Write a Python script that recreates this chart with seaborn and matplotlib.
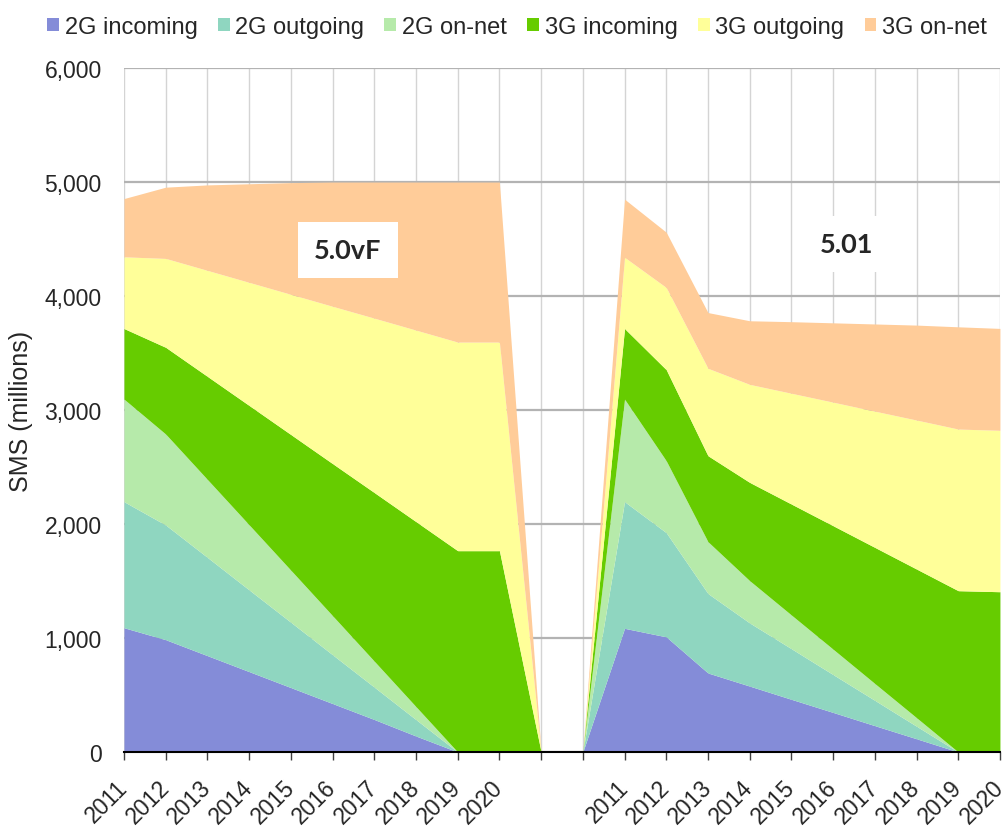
import numpy as np
import pandas as pd
import seaborn as sns
import matplotlib.pyplot as plt
from matplotlib.ticker import FuncFormatter

# Data (millions of SMS), two scenarios side by side
years = [str(y) for y in range(2011, 2021)]
gap = ['', '']   # two empty slots where both stacks fall to zero

series = ['2G incoming', '2G outgoing', '2G on-net', '3G incoming', '3G outgoing', '3G on-net']
colors = ['#848CD8', '#8FD6C0', '#B6EAAA', '#66CC00', '#FFFF99', '#FFCC99']

# scenario 5.0vF
left_2g_in = [1090, 985, 845, 705, 565, 425, 285, 140, 0, 0]
left_2g_out = [1106, 1006, 862, 717, 573, 428, 284, 144, 0, 0]
left_2g_net = [900, 798, 684, 571, 457, 343, 228, 114, 0, 0]
left_3g_in = [619, 761, 904, 1047, 1190, 1334, 1479, 1623, 1766, 1766]
left_3g_out = [629, 780, 930, 1080, 1230, 1380, 1530, 1680, 1830, 1830]
left_3g_net = [511, 625, 750, 865, 980, 1090, 1194, 1299, 1404, 1404]

# scenario 5.01
right_2g_in = [1085, 1010, 693, 578, 462, 347, 231, 116, 0, 0]
right_2g_out = [1111, 914, 697, 554, 444, 332, 222, 110, 0, 0]
right_2g_net = [900, 631, 455, 371, 296, 223, 148, 75, 0, 0]
right_3g_in = [619, 799, 754, 862, 973, 1083, 1194, 1304, 1415, 1406]
right_3g_out = [625, 721, 767, 860, 972, 1084, 1195, 1307, 1418, 1416]
right_3g_net = [510, 485, 489, 558, 628, 696, 765, 833, 897, 894]

left = [left_2g_in, left_2g_out, left_2g_net, left_3g_in, left_3g_out, left_3g_net]
right = [right_2g_in, right_2g_out, right_2g_net, right_3g_in, right_3g_out, right_3g_net]

tick_labels = years + gap + years
df = pd.DataFrame({name: l + [0, 0] + r for name, l, r in zip(series, left, right)})
x = np.arange(len(df))

sns.set_theme(style='white')
plt.rcParams['font.family'] = ['Liberation Sans', 'DejaVu Sans']
palette = sns.color_palette(colors)

fig = plt.figure(figsize=(10.08, 8.28), dpi=100)
ax = fig.add_axes([0.123, 0.0906, 0.869, 0.826])

ax.stackplot(x, [df[s] for s in series], labels=series, colors=palette, linewidth=0)

ax.set_xlim(0, len(df) - 1)
ax.set_ylim(0, 6000)
ax.set_yticks(np.arange(0, 6001, 1000))
ax.yaxis.set_major_formatter(FuncFormatter(lambda v, p: f'{v:,.0f}'))
ax.set_xticks(x)
ax.set_xticklabels(tick_labels, rotation=45, ha='right', va='center', rotation_mode='anchor')

# gridlines behind the areas
ax.set_axisbelow(True)
ax.yaxis.grid(True, color='#b3b3b3', lw=1.6)
ax.xaxis.grid(True, color='#d4d4d4', lw=1)

for side in ['left', 'top', 'right']:
    ax.spines[side].set_visible(False)
ax.spines['bottom'].set_color('black')
ax.spines['bottom'].set_linewidth(1.5)

ax.tick_params(axis='x', bottom=True, direction='out', length=6, width=1, color='#404040',
               labelsize=16.5, pad=17)
ax.tick_params(axis='y', left=False, length=0, labelsize=16.5, pad=16)
ax.set_ylabel('SMS (millions)', fontsize=18, labelpad=8)

# scenario labels
ax.text(5.37, 4404, '5.0vF', fontsize=19.5, fontweight='bold', family='Lato', ha='center', va='center',
        bbox=dict(boxstyle='square,pad=0.6', fc='white', ec='none'), zorder=4)
ax.text(17.33, 4456, '5.01', fontsize=19.5, fontweight='bold', family='Lato', ha='center', va='center',
        bbox=dict(boxstyle='square,pad=0.6', fc='white', ec='none'), zorder=4)

handles, labels = ax.get_legend_handles_labels()
fig.legend(handles, labels, loc='upper center', bbox_to_anchor=(0.513, 1.005), ncol=6, frameon=False,
           fontsize=17, handlelength=0.5, handleheight=0.5, handletextpad=0.25, columnspacing=0.85)

plt.savefig('out.png', dpi=100)
